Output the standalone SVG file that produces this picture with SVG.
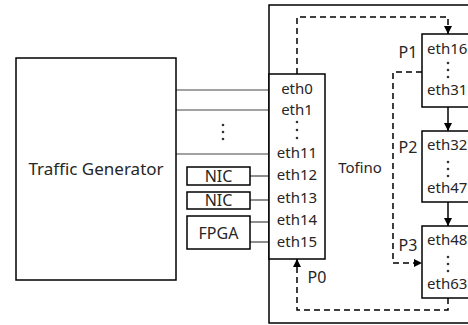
<svg xmlns="http://www.w3.org/2000/svg" width="468" height="325" viewBox="0 0 468 325">
<style>
.box{fill:#fff;stroke:#000;stroke-width:1.5}
.t{font-family:"Noto Sans","DejaVu Sans",sans-serif;font-size:15px;fill:#262626}
.c{text-anchor:middle}
.ln{stroke:#444;stroke-width:1.2;fill:none}
.dash{stroke:#000;stroke-width:1.5;fill:none;stroke-dasharray:6,4}
.solid{stroke:#000;stroke-width:1.5;fill:none}
.dot{fill:#333}
</style>
<defs>
<marker id="ah" viewBox="0 0 10 10" refX="10" refY="5" markerWidth="9" markerHeight="8" markerUnits="userSpaceOnUse" orient="auto">
<path d="M0,0 L10,5 L0,10 Z" fill="#000"/>
</marker>
</defs>
<rect width="468" height="325" fill="#fff"/>
<g id="tofino">
<rect class="box" x="269" y="5" width="220" height="318"/>
<text class="t c" x="360" y="173">Tofino</text>
</g>
<g id="connectors">
<line class="ln" x1="176" y1="90" x2="269" y2="90"/>
<line class="ln" x1="176" y1="110" x2="269" y2="110"/>
<line class="ln" x1="176" y1="154" x2="269" y2="154"/>
<line class="ln" x1="250" y1="176" x2="269" y2="176"/>
<line class="ln" x1="250" y1="200" x2="269" y2="200"/>
<line class="ln" x1="250" y1="222" x2="269" y2="222"/>
<line class="ln" x1="250" y1="242" x2="269" y2="242"/>
<path class="dash" d="M297,74 V17 H448 V34" marker-end="url(#ah)"/>
<path class="dash" d="M422,72 H393 V263 H422" marker-end="url(#ah)"/>
<path class="dash" d="M448,298 V310 H297 V259" marker-end="url(#ah)"/>
<path class="solid" d="M448,107 V131" marker-end="url(#ah)"/>
<path class="solid" d="M448,202 V226" marker-end="url(#ah)"/>
<circle class="dot" cx="223" cy="125" r="1.3"/>
<circle class="dot" cx="223" cy="132" r="1.3"/>
<circle class="dot" cx="223" cy="139" r="1.3"/>
</g>
<g id="traffic-generator">
<rect class="box" x="16" y="58" width="160" height="222"/>
<text class="t c" x="96" y="175" style="font-size:17px">Traffic Generator</text>
</g>
<g id="nic1">
<rect class="box" x="187" y="167" width="63" height="18"/>
<text class="t c" x="218.5" y="181.5" style="font-size:16px">NIC</text>
</g>
<g id="nic2">
<rect class="box" x="187" y="192" width="63" height="17"/>
<text class="t c" x="218.5" y="206" style="font-size:16px">NIC</text>
</g>
<g id="fpga">
<rect class="box" x="187" y="216" width="63" height="33"/>
<text class="t c" x="218.5" y="238.5" style="font-size:16px">FPGA</text>
</g>
<g id="p0-ports">
<rect class="box" x="269" y="74" width="56" height="185"/>
<text class="t c" x="297" y="94">eth0</text>
<text class="t c" x="297" y="115">eth1</text>
<circle class="dot" cx="297" cy="122" r="1.3"/>
<circle class="dot" cx="297" cy="130" r="1.3"/>
<circle class="dot" cx="297" cy="138" r="1.3"/>
<text class="t c" x="297" y="158">eth11</text>
<text class="t c" x="297" y="180">eth12</text>
<text class="t c" x="297" y="203">eth13</text>
<text class="t c" x="297" y="225">eth14</text>
<text class="t c" x="297" y="247">eth15</text>
</g>
<g id="p1-ports">
<rect class="box" x="422" y="34" width="60" height="73"/>
<text class="t" x="427" y="54">eth16</text>
<circle class="dot" cx="448" cy="63" r="1.3"/>
<circle class="dot" cx="448" cy="70" r="1.3"/>
<circle class="dot" cx="448" cy="77" r="1.3"/>
<text class="t" x="427" y="95">eth31</text>
</g>
<g id="p2-ports">
<rect class="box" x="422" y="131" width="60" height="71"/>
<text class="t" x="427" y="150">eth32</text>
<circle class="dot" cx="448" cy="162" r="1.3"/>
<circle class="dot" cx="448" cy="169" r="1.3"/>
<circle class="dot" cx="448" cy="176" r="1.3"/>
<text class="t" x="427" y="193">eth47</text>
</g>
<g id="p3-ports">
<rect class="box" x="422" y="226" width="60" height="72"/>
<text class="t" x="427" y="245">eth48</text>
<circle class="dot" cx="448" cy="257" r="1.3"/>
<circle class="dot" cx="448" cy="264" r="1.3"/>
<circle class="dot" cx="448" cy="271" r="1.3"/>
<text class="t" x="427" y="289">eth63</text>
</g>
<g id="labels">
<text class="t c" x="408" y="58" style="font-size:16px">P1</text>
<text class="t c" x="408" y="153" style="font-size:16px">P2</text>
<text class="t c" x="408" y="251" style="font-size:16px">P3</text>
<text class="t c" x="317" y="283" style="font-size:16px">P0</text>
</g>
</svg>
